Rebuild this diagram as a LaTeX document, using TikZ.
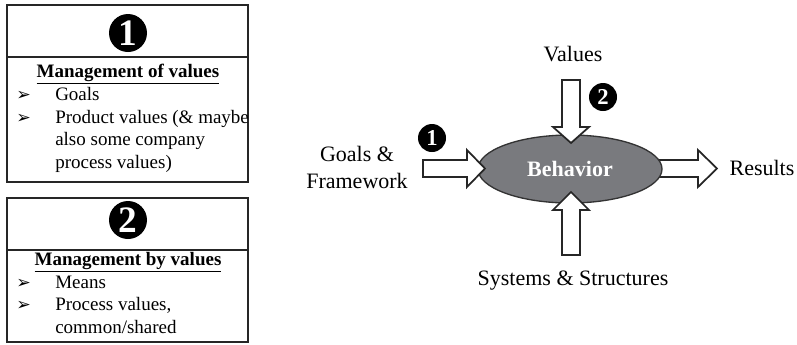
\documentclass[tikz,border=0pt]{standalone}
\usepackage{fontspec}
\setmainfont{Liberation Serif}
\newfontfamily\symfont{DejaVu Sans}
\usepackage{xcolor}
\usetikzlibrary{shapes.geometric}
\definecolor{behaviorgray}{RGB}{121,122,126}

\begin{document}
\begin{tikzpicture}[x=0.75pt, y=-0.75pt]
    \tikzset{panel/.style={draw=black!85, line width=1.5pt},
             numdot/.style={circle, fill=black, text=white, inner sep=0pt},
             bigdot/.style={numdot, minimum size=28.5pt, font=\fontsize{28}{28}\selectfont\bfseries},
             smalldot/.style={numdot, minimum size=21pt, font=\fontsize{17}{17}\selectfont\bfseries},
             boxtext/.style={font=\fontsize{14.25}{16.5}\selectfont, inner sep=0pt, anchor=base west},
             boxtitle/.style={font=\fontsize{14.25}{16.5}\selectfont\bfseries, inner sep=0pt, anchor=base},
             bullet/.style={font=\symfont\fontsize{13}{13}\selectfont, inner sep=0pt, anchor=base west},
             bigtext/.style={font=\fontsize{16.5}{20.25}\selectfont, inner sep=0pt},
             blockarrow/.style={draw=black!85, fill=white, line width=1.3pt, line join=miter}}
    \useasboundingbox (0,0) rectangle (797,344);

    % box 1
    \draw[panel] (7,5) rectangle (248,182);
    \draw[panel] (7,57) -- (248,57);
    \node[bigdot] (n1) at (128,33) {1};
    \node[boxtitle] (t1) at (128,77) {\underline{Management of values}};
    \node[bullet] (b11) at (16,100) {➢};
    \node[boxtext] (i11) at (55,100) {Goals};
    \node[bullet] (b12) at (16,123) {➢};
    \node[boxtext] (i12) at (55,123) {Product values (\& maybe};
    \node[boxtext] (i13) at (55,145) {also some company};
    \node[boxtext] (i14) at (55,168) {process values)};

    % box 2
    \draw[panel] (7,198) rectangle (248,342);
    \draw[panel] (7,250) -- (248,250);
    \node[bigdot] (n2) at (128,220) {2};
    \node[boxtitle] (t2) at (128,265) {\underline{Management by values}};
    \node[bullet] (b21) at (16,288) {➢};
    \node[boxtext] (i21) at (55,288) {Means};
    \node[bullet] (b22) at (16,310) {➢};
    \node[boxtext] (i22) at (55,310) {Process values,};
    \node[boxtext] (i23) at (55,333) {common/shared};

    % behavior model
    \draw[blockarrow] (655,160) -- (698,160) -- (698,150) -- (717,168.5) -- (698,187) -- (698,177) -- (655,177) -- cycle;
    \node[ellipse, draw=black!80, line width=1pt, fill=behaviorgray, minimum width=138pt, minimum height=51pt,
          text=white, font=\fontsize{16.5}{16.5}\selectfont\bfseries] (beh) at (570,169) {Behavior};
    \draw[blockarrow] (562,80) -- (580,80) -- (580,127) -- (589,127) -- (571,143) -- (553,127) -- (562,127) -- cycle;
    \draw[blockarrow] (562,255) -- (580,255) -- (580,210) -- (589,210) -- (571,192) -- (553,210) -- (562,210) -- cycle;
    \draw[blockarrow] (423,160) -- (467,160) -- (467,150) -- (485,168.5) -- (467,187) -- (467,177) -- (423,177) -- cycle;

    \node[bigtext, anchor=base] (val) at (573,61) {Values};
    \node[bigtext, align=center] (goal) at (357,167) {Goals \&\\Framework};
    \node[bigtext, anchor=base] (res) at (762,175) {Results};
    \node[bigtext, anchor=base] (sys) at (573,285) {Systems \& Structures};
    \node[smalldot] (d1) at (432,138) {1};
    \node[smalldot] (d2) at (603,97) {2};
\end{tikzpicture}
\end{document}
